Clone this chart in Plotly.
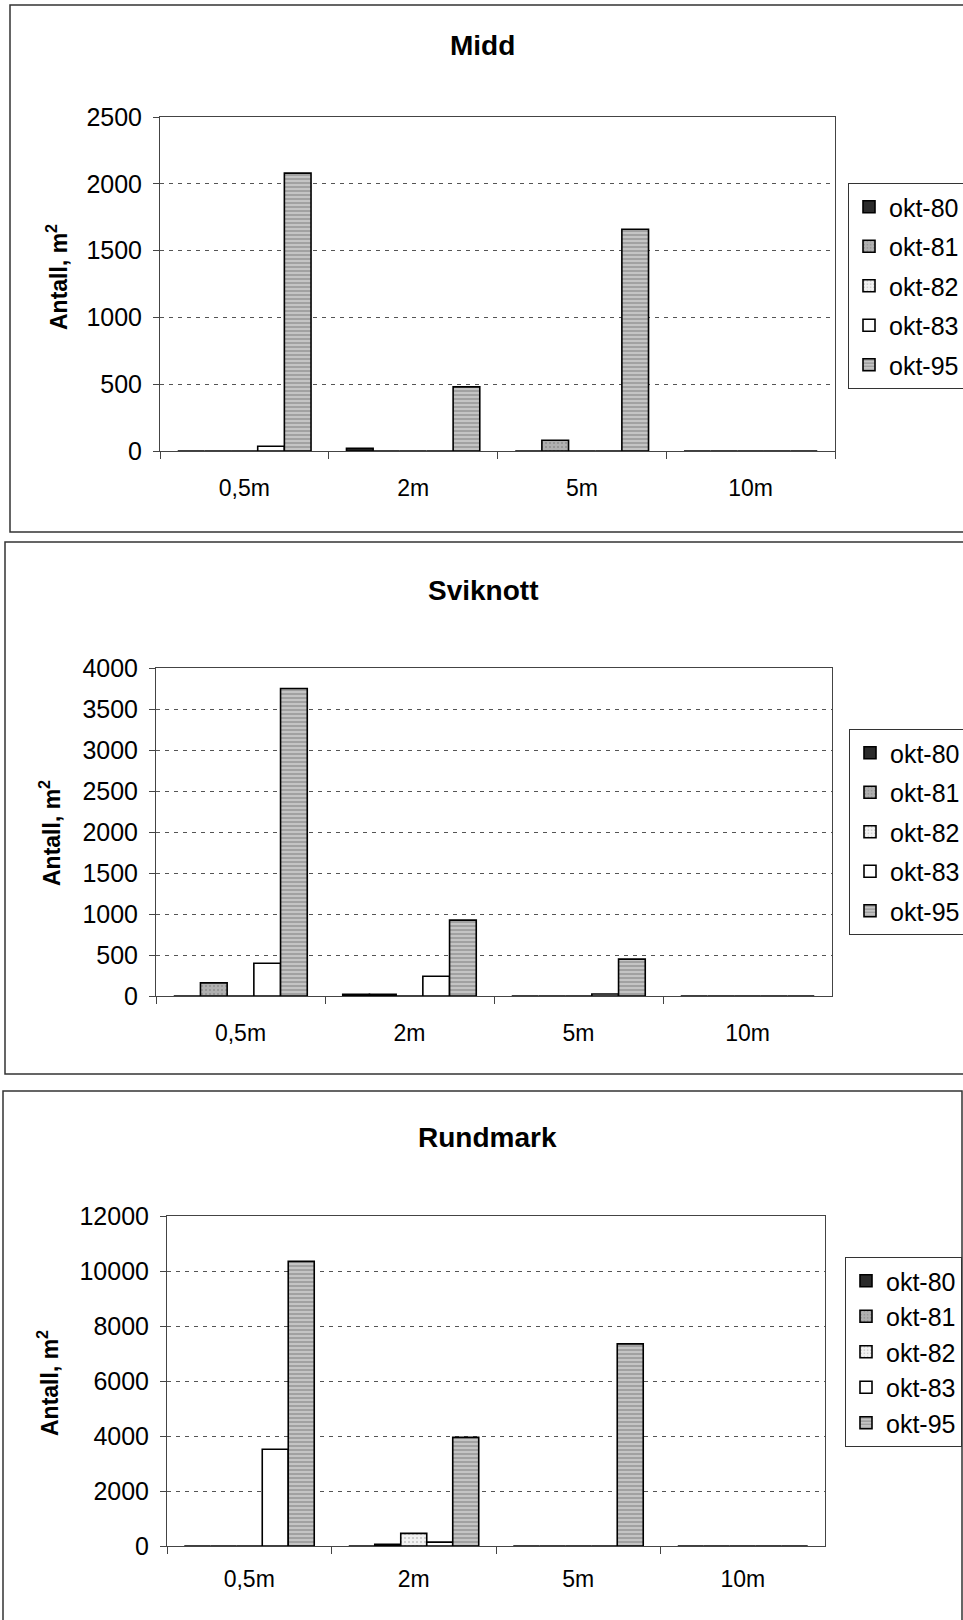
import plotly.graph_objects as go

# Sampling depths (categories on every x axis)
depths = ["0,5m", "2m", "5m", "10m"]
series_names = ["okt-80", "okt-81", "okt-82", "okt-83", "okt-95"]

# Midd, individuals per m2
midd_okt80 = [0, 20, 0, 0]
midd_okt81 = [0, 0, 80, 0]
midd_okt82 = [0, 0, 0, 0]
midd_okt83 = [35, 0, 0, 0]
midd_okt95 = [2080, 480, 1660, 0]

# Sviknott, individuals per m2
svik_okt80 = [0, 20, 0, 0]
svik_okt81 = [160, 20, 0, 0]
svik_okt82 = [0, 0, 0, 0]
svik_okt83 = [400, 240, 25, 0]
svik_okt95 = [3750, 925, 450, 0]

# Rundmark, individuals per m2
rund_okt80 = [0, 0, 0, 0]
rund_okt81 = [0, 60, 0, 0]
rund_okt82 = [0, 460, 0, 0]
rund_okt83 = [3520, 140, 0, 0]
rund_okt95 = [10350, 3950, 7350, 0]

panel_titles = ["Midd", "Sviknott", "Rundmark"]
y_ranges = [[0, 2500], [0, 4000], [0, 12000]]
y_dticks = [500, 500, 2000]

panels = [
    [midd_okt80, midd_okt81, midd_okt82, midd_okt83, midd_okt95],
    [svik_okt80, svik_okt81, svik_okt82, svik_okt83, svik_okt95],
    [rund_okt80, rund_okt81, rund_okt82, rund_okt83, rund_okt95],
]

W, H = 963, 1620
FONT = "Liberation Sans, Arial, sans-serif"


def px_x(v):
    return v / W


def px_y(v):
    return 1 - v / H


# fill styles for each sampling date
styles = {
    "okt-80": dict(color="#2b2b2b"),
    "okt-81": dict(color="#a8a8a8",
                   pattern=dict(shape=".", fgcolor="#8f8f8f", bgcolor="#b0b0b0", size=4, solidity=0.2)),
    "okt-82": dict(color="#eeeeee",
                   pattern=dict(shape=".", fgcolor="#c4c4c4", bgcolor="#f2f2f2", size=4, solidity=0.2)),
    "okt-83": dict(color="#ffffff"),
    "okt-95": dict(color="#b8b8b8",
                   pattern=dict(shape="-", fgcolor="#8a8a8a", bgcolor="#c4c4c4", size=4, solidity=0.3)),
}

# plot-area boxes (left, top, right, bottom) in pixels
plot_boxes = [(160, 117, 835, 451), (156, 668, 832, 996), (167, 1216, 825, 1546)]
legend_pos = [(848, 183), (849, 729), (845, 1257)]
legend_gaps = [4, 4, 0]
xlabel_standoff = [16, 16, 12]
title_pos = [(483, 46), (483, 590), (487, 1137)]
ytitle_pos = [(57, 277), (50, 833), (48, 1383)]
frames = [(10, 5, 975, 532), (5, 542, 975, 1074), (3, 1091, 962, 1640)]

fig = go.Figure()

for i, series in enumerate(panels):
    suffix = "" if i == 0 else str(i + 1)
    for name, vals in zip(series_names, series):
        st = styles[name]
        marker = dict(color=st["color"], line=dict(color="#000000", width=1.6))
        if "pattern" in st:
            marker["pattern"] = st["pattern"]
        fig.add_trace(go.Bar(
            x=depths, y=vals, name=name, marker=marker,
            xaxis="x" + suffix, yaxis="y" + suffix,
            legend="legend" + suffix, legendgroup=f"{name}-{i}",
        ))

layout = dict(
    template="none",
    width=W, height=H,
    margin=dict(l=0, r=0, t=0, b=0, autoexpand=False),
    paper_bgcolor="white", plot_bgcolor="white",
    barmode="group", bargap=0.21, bargroupgap=0,
    font=dict(family=FONT, size=23, color="#000000"),
    showlegend=True,
)

annotations = []
shapes = []
for i in range(3):
    suffix = "" if i == 0 else str(i + 1)
    l, t, r, b = plot_boxes[i]
    layout["xaxis" + suffix] = dict(
        domain=[px_x(l), px_x(r)], anchor="y" + suffix, automargin=False,
        showline=True, linecolor="#444444", linewidth=1, mirror=True,
        ticks="outside", ticklen=7, tickcolor="#444444", tickson="boundaries",
        showgrid=False, tickfont=dict(size=23), ticklabelstandoff=xlabel_standoff[i],
        fixedrange=True,
    )
    layout["yaxis" + suffix] = dict(
        domain=[px_y(b), px_y(t)], anchor="x" + suffix, automargin=False,
        range=y_ranges[i], dtick=y_dticks[i], tickformat="d",
        showline=True, linecolor="#444444", linewidth=1, mirror=True,
        ticks="outside", ticklen=6, tickcolor="#444444",
        showgrid=True, gridcolor="#555555", gridwidth=1, griddash="4px,5px",
        zeroline=False, tickfont=dict(size=25), ticklabelstandoff=6,
        fixedrange=True,
    )
    lx, ly = legend_pos[i]
    layout["legend" + suffix] = dict(
        xref="container", yref="container",
        x=px_x(lx), y=px_y(ly), xanchor="left", yanchor="top",
        bordercolor="#333333", borderwidth=1, bgcolor="white",
        font=dict(size=25), traceorder="grouped", tracegroupgap=legend_gaps[i],
        itemclick=False, itemdoubleclick=False,
    )
    tx, ty = title_pos[i]
    annotations.append(dict(
        text=f"<b>{panel_titles[i]}</b>", x=px_x(tx), y=px_y(ty),
        xref="paper", yref="paper", xanchor="center", yanchor="middle",
        showarrow=False, font=dict(size=28),
    ))
    yx, yy = ytitle_pos[i]
    annotations.append(dict(
        text="<b>Antall, m<sup>2</sup></b>", x=px_x(yx), y=px_y(yy),
        xref="paper", yref="paper", xanchor="center", yanchor="middle",
        textangle=-90, showarrow=False, font=dict(size=23),
    ))
    fx0, fy0, fx1, fy1 = frames[i]
    shapes.append(dict(
        type="rect", xref="paper", yref="paper", layer="below",
        x0=px_x(fx0), x1=px_x(fx1), y0=px_y(fy1), y1=px_y(fy0),
        line=dict(color="#333333", width=1.5), fillcolor="rgba(0,0,0,0)",
    ))

layout["annotations"] = annotations
layout["shapes"] = shapes
fig.update_layout(**layout)

# let the figure sit flush against the page edges
fig.write_html(
    "out.html",
    post_script="document.body.style.margin='0';document.body.style.overflow='hidden';",
)
